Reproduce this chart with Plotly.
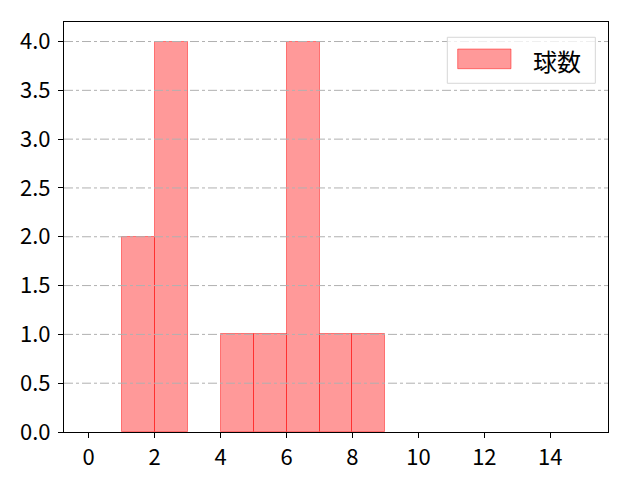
import plotly.graph_objects as go

bin_left = [1, 2, 3, 4, 5, 6, 7, 8]
counts = [2, 4, 0, 1, 1, 4, 1, 1]
series_name = "球数"
x_ticks = [0, 2, 4, 6, 8, 10, 12, 14]
y_ticks = [0.0, 0.5, 1.0, 1.5, 2.0, 2.5, 3.0, 3.5, 4.0]

xs = [b + 0.5 for b, c in zip(bin_left, counts) if c > 0]
ys = [c for c in counts if c > 0]

fig = go.Figure()
fig.add_trace(go.Bar(
    x=xs, y=ys, width=1, name=series_name,
    marker=dict(color="rgba(255,0,0,0.4)", line=dict(color="rgba(255,0,0,0.45)", width=1)),
    showlegend=False,
))

# grid lines drawn above bars (as in the reference)
for yv in y_ticks[1:]:
    fig.add_shape(type="line", xref="paper", x0=0, x1=1, yref="y", y0=yv, y1=yv,
                  line=dict(color="#b0b0b0", width=1, dash="dashdot"), layer="above")

# legend box
fig.add_shape(type="rect", xref="paper", yref="paper", x0=0.7046, x1=0.9767, y0=0.8505, y1=0.9627,
              line=dict(color="#d6d6d6", width=1), fillcolor="rgba(255,255,255,0.8)", layer="above")
fig.add_shape(type="rect", xref="paper", yref="paper", x0=0.7237, x1=0.8217, y0=0.8861, y1=0.9341,
              line=dict(color="rgba(255,0,0,0.45)", width=1), fillcolor="rgba(255,0,0,0.4)", layer="above")
fig.add_annotation(xref="paper", yref="paper", x=0.907, y=0.907, text=series_name, showarrow=False,
                   font=dict(family="Noto Sans CJK JP", size=24, color="black"),
                   xanchor="center", yanchor="middle")

font = "Noto Sans CJK JP"
fig.update_layout(
    width=624, height=464,
    margin=dict(l=56, r=24, t=14, b=40, autoexpand=False),
    paper_bgcolor="white", plot_bgcolor="white",
    font=dict(family=font, size=22, color="black"),
    bargap=0,
    xaxis=dict(
        range=[-0.75, 15.75], tickvals=x_ticks, ticks="outside", ticklen=5,
        tickcolor="black", showline=True, linecolor="black", linewidth=1.2,
        mirror=True, showgrid=False, zeroline=False, automargin=False,
    ),
    yaxis=dict(
        range=[0, 4.2], tickvals=y_ticks, tickformat=".1f", ticks="outside", ticklen=5,
        tickcolor="black", showline=True, linecolor="black", linewidth=1.2,
        mirror=True, showgrid=False, zeroline=False, automargin=False,
        ticklabelstandoff=3,
    ),
)

fig.write_html("out.html")
